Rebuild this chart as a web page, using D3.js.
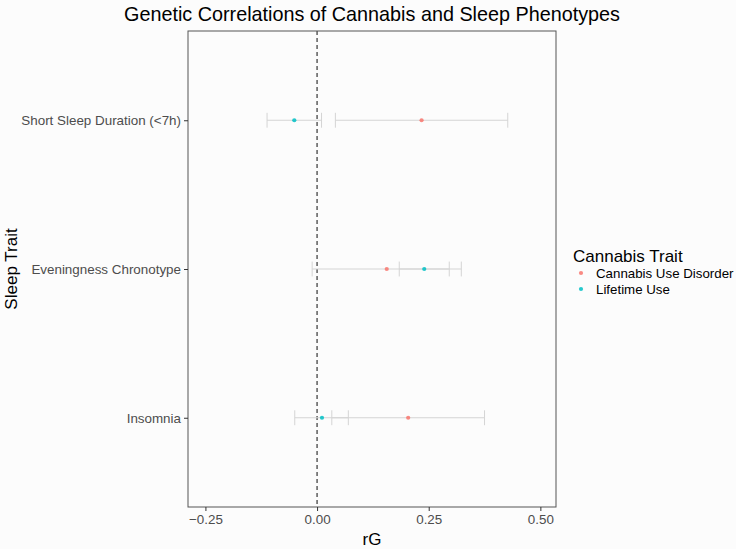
<!DOCTYPE html>
<head>
  <meta charset="utf-8">
  <script src="https://cdn.jsdelivr.net/npm/d3@7"></script>
  <style>
    body { margin: 0; background: #fcfcfc; }
    text { font-family: "Liberation Sans", Arial, sans-serif; }
  </style>
</head>
<body>
  <div id="chart"></div>
  <script>
    // Sleep traits (top to bottom) and the two cannabis traits
    var sleepTraits = ["Short Sleep Duration (<7h)", "Eveningness Chronotype", "Insomnia"];
    var cannabisTraits = ["Cannabis Use Disorder", "Lifetime Use"];
    var traitColours = ["#F8766D", "#00BFC4"];

    // rG estimates and CI bounds, one value per sleep trait
    var cudRg    = [0.234, 0.156, 0.204];
    var cudLower = [0.041, -0.011, 0.033];
    var cudUpper = [0.427, 0.323, 0.375];
    var lifeRg    = [-0.051, 0.240, 0.011];
    var lifeLower = [-0.112, 0.184, -0.050];
    var lifeUpper = [0.010, 0.296, 0.070];

    var xTicks = [-0.25, 0, 0.25, 0.5];

    var rows = [];
    sleepTraits.forEach(function(s, i) {
      rows.push({sleep: s, trait: cannabisTraits[0], rg: cudRg[i], lo: cudLower[i], hi: cudUpper[i]});
      rows.push({sleep: s, trait: cannabisTraits[1], rg: lifeRg[i], lo: lifeLower[i], hi: lifeUpper[i]});
    });

    var W = 736, H = 549;
    var margin = {top: 31, right: 180, bottom: 42, left: 188};
    var width = W - margin.left - margin.right,
        height = H - margin.top - margin.bottom;

    var svg = d3.select("#chart").append("svg")
        .attr("width", W).attr("height", H);

    svg.append("rect").attr("width", W).attr("height", H).attr("fill", "#fcfcfc");

    var g = svg.append("g")
        .attr("transform", "translate(" + margin.left + "," + margin.top + ")");

    var x = d3.scaleLinear().domain([-0.289, 0.535]).range([0, width]);
    var y = d3.scalePoint().domain(sleepTraits).range([0, height]).padding(0.6);
    var band = y.step();

    // Zero reference line
    g.append("line")
        .attr("x1", x(0)).attr("x2", x(0))
        .attr("y1", 0).attr("y2", height)
        .attr("stroke", "#444").attr("stroke-width", 1.3)
        .attr("stroke-dasharray", "4,3");

    // Error bars
    var capH = band * 0.1;
    var eb = g.selectAll(".eb").data(rows).enter().append("g")
        .attr("stroke", "#d4d4d4").attr("stroke-width", 1);
    eb.append("line")
        .attr("x1", function(d) { return x(d.lo); })
        .attr("x2", function(d) { return x(d.hi); })
        .attr("y1", function(d) { return y(d.sleep); })
        .attr("y2", function(d) { return y(d.sleep); });
    eb.append("line")
        .attr("x1", function(d) { return x(d.lo); })
        .attr("x2", function(d) { return x(d.lo); })
        .attr("y1", function(d) { return y(d.sleep) - capH / 2; })
        .attr("y2", function(d) { return y(d.sleep) + capH / 2; });
    eb.append("line")
        .attr("x1", function(d) { return x(d.hi); })
        .attr("x2", function(d) { return x(d.hi); })
        .attr("y1", function(d) { return y(d.sleep) - capH / 2; })
        .attr("y2", function(d) { return y(d.sleep) + capH / 2; });

    var colour = d3.scaleOrdinal().domain(cannabisTraits).range(traitColours);

    g.selectAll(".pt").data(rows).enter().append("circle")
        .attr("cx", function(d) { return x(d.rg); })
        .attr("cy", function(d) { return y(d.sleep); })
        .attr("r", 2.1)
        .attr("fill", function(d) { return colour(d.trait); })
        .attr("fill-opacity", 0.85);

    // Panel border
    g.append("rect").attr("width", width).attr("height", height)
        .attr("fill", "none").attr("stroke", "#555").attr("stroke-width", 1);

    // Axes
    var xAxis = g.append("g").attr("transform", "translate(0," + height + ")")
        .call(d3.axisBottom(x).tickValues(xTicks).tickSize(4).tickPadding(3)
              .tickFormat(d3.format(".2f")));
    var yAxis = g.append("g")
        .call(d3.axisLeft(y).tickSize(4).tickPadding(3));
    [xAxis, yAxis].forEach(function(a) {
      a.select(".domain").remove();
      a.selectAll(".tick line").attr("stroke", "#333");
      a.selectAll(".tick text").attr("fill", "#4d4d4d")
          .style("font-size", "13.4px").style("font-family", "Liberation Sans, Arial, sans-serif");
    });

    // Titles
    svg.append("text").attr("x", margin.left + width / 2).attr("y", 21)
        .attr("text-anchor", "middle").style("font-size", "19.8px").attr("fill", "#000")
        .text("Genetic Correlations of Cannabis and Sleep Phenotypes");
    svg.append("text").attr("x", margin.left + width / 2).attr("y", 545)
        .attr("text-anchor", "middle").style("font-size", "17px").attr("fill", "#000")
        .text("rG");
    svg.append("text")
        .attr("transform", "translate(17," + (margin.top + height / 2) + ") rotate(-90)")
        .attr("text-anchor", "middle").style("font-size", "17px").attr("fill", "#000")
        .text("Sleep Trait");

    // Legend
    var lg = svg.append("g").attr("transform", "translate(573,0)");
    lg.append("text").attr("x", 0).attr("y", 262)
        .style("font-size", "17px").attr("fill", "#000").text("Cannabis Trait");
    cannabisTraits.forEach(function(t, i) {
      var yy = 273 + i * 16;
      lg.append("circle").attr("cx", 8).attr("cy", yy).attr("r", 2.1)
          .attr("fill", colour(t)).attr("fill-opacity", 0.85);
      lg.append("text").attr("x", 23).attr("y", yy + 4.5)
          .style("font-size", "13.3px").attr("fill", "#000").text(t);
    });
  </script>
</body>
